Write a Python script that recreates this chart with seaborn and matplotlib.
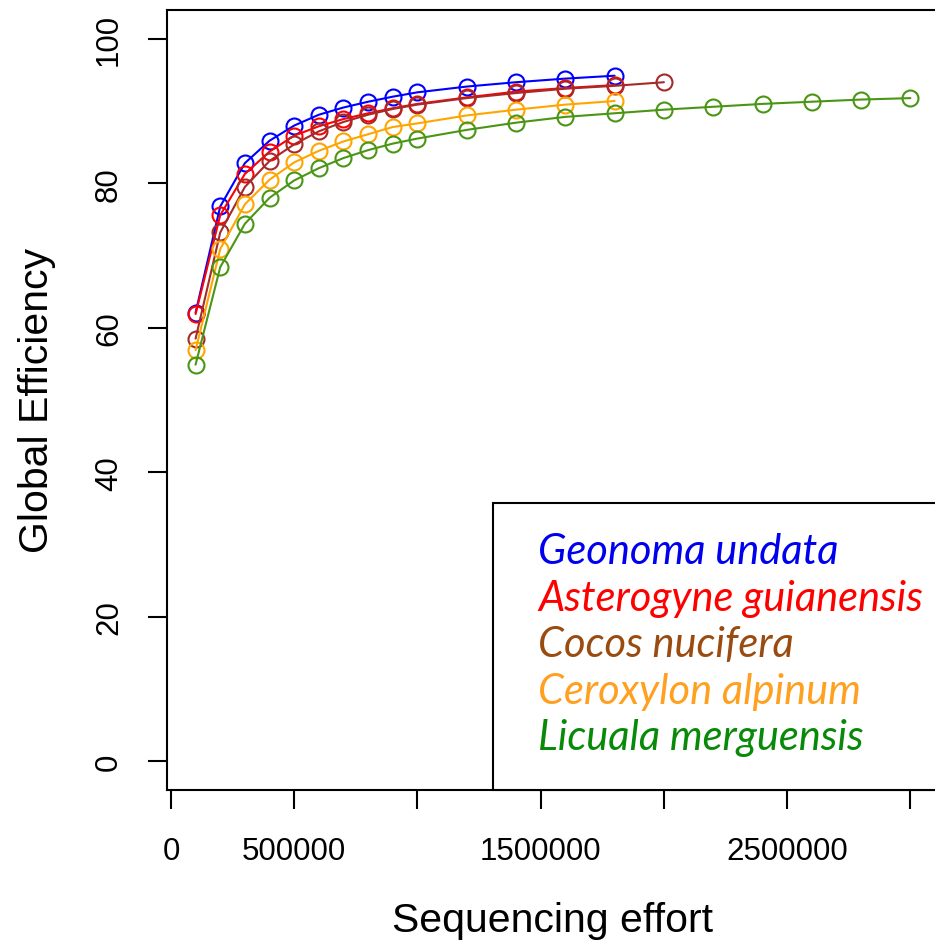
import pandas as pd
import numpy as np
import matplotlib
matplotlib.use("Agg")
import matplotlib.pyplot as plt
import seaborn as sns
from matplotlib.patches import Rectangle

# sequencing effort (x) for each curve
effort_short = [100000, 200000, 300000, 400000, 500000, 600000, 700000, 800000,
                900000, 1000000, 1200000, 1400000, 1600000, 1800000]
effort_cocos = effort_short + [2000000]
effort_licuala = effort_cocos + [2200000, 2400000, 2600000, 2800000, 3000000]

# global efficiency values
geonoma = [62.1, 76.8, 82.8, 85.9, 88.0, 89.5, 90.5, 91.3, 92.0, 92.6, 93.4, 94.0, 94.5, 94.9]
asterogyne = [61.9, 75.6, 81.3, 84.4, 86.6, 87.9, 88.9, 89.7, 90.4, 91.0, 91.9, 92.7, 93.2, 93.6]
cocos = [58.5, 73.2, 79.5, 83.1, 85.4, 87.2, 88.5, 89.5, 90.3, 90.9, 91.8, 92.5, 93.1, 93.5, 94.0]
ceroxylon = [56.9, 70.9, 77.1, 80.5, 82.9, 84.5, 85.8, 86.8, 87.8, 88.3, 89.4, 90.2, 90.9, 91.4]
licuala = [54.9, 68.4, 74.4, 78.0, 80.4, 82.1, 83.5, 84.6, 85.5, 86.2, 87.4, 88.4, 89.2, 89.7,
           90.2, 90.6, 91.0, 91.3, 91.6, 91.8]

species = ["Geonoma undata", "Asterogyne guianensis", "Cocos nucifera",
           "Ceroxylon alpinum", "Licuala merguensis"]
line_colors = ["#0000ff", "#ff0000", "#a52a2a", "#ffa500", "#4a9614"]
text_colors = ["#0000ee", "#ff0000", "#9a4c10", "#ffa020", "#088a08"]

xticks = [0, 500000, 1000000, 1500000, 2000000, 2500000, 3000000]
xticklabels = ["0", "500000", "", "1500000", "", "2500000", ""]
yticks = [0, 20, 40, 60, 80, 100]

frames = []
for name, xs, ys in zip(species,
                        [effort_short, effort_short, effort_cocos, effort_short, effort_licuala],
                        [geonoma, asterogyne, cocos, ceroxylon, licuala]):
    frames.append(pd.DataFrame({"effort": xs, "efficiency": ys, "species": name}))
df = pd.concat(frames, ignore_index=True)

sns.set_theme(style="ticks")
plt.rcParams["font.family"] = ["Liberation Sans", "DejaVu Sans"]
plt.rcParams["text.color"] = "black"
plt.rcParams["axes.labelcolor"] = "black"

fig = plt.figure(figsize=(9.35, 9.45), dpi=100)
ax = fig.add_axes([167 / 935, (945 - 791) / 945, 772 / 935, 780 / 945])

sns.lineplot(data=df, x="effort", y="efficiency", hue="species", hue_order=species,
             palette=line_colors, marker="o", markersize=11.5, mfc="none",
             linewidth=1.5, legend=False, ax=ax, sort=True)
for line, c in zip(ax.lines, line_colors):
    line.set_markeredgecolor(c)
    line.set_markeredgewidth(1.5)
    line.set_markerfacecolor("none")

ax.set_xlim(-16000, 3116000)
ax.set_ylim(-4, 104)
ax.set_xticks(xticks)
ax.set_xticklabels(xticklabels)
ax.set_yticks(yticks)
ax.set_yticklabels([str(v) for v in yticks], rotation=90, va="center")

ax.tick_params(axis="both", direction="out", length=14, width=1.5, colors="black",
               labelsize=22.5)
ax.tick_params(axis="x", pad=19)
ax.tick_params(axis="y", pad=17)

for side in ["top", "left", "bottom", "right"]:
    ax.spines[side].set_linewidth(1.5)
    ax.spines[side].set_color("black")

ax.set_xlabel("Sequencing effort", fontsize=29.5, labelpad=25, color="black")
ax.set_ylabel("Global Efficiency", fontsize=29.5, labelpad=27, color="black")

# legend box with coloured species names
ax.add_patch(Rectangle((0.4225, 0.0), 1.0, 0.368, transform=ax.transAxes,
                       facecolor="white", edgecolor="black", linewidth=1.5,
                       clip_on=False, zorder=5))
for i, (name, c) in enumerate(zip(species, text_colors)):
    ax.text(0.4805, 0.291 - i * 0.0597, name, transform=ax.transAxes,
            color=c, fontsize=30, fontstyle="italic", family=["Lato", "DejaVu Sans"],
            va="baseline", ha="left", zorder=6)

ax.grid(False)
fig.savefig("out.png", dpi=100)
